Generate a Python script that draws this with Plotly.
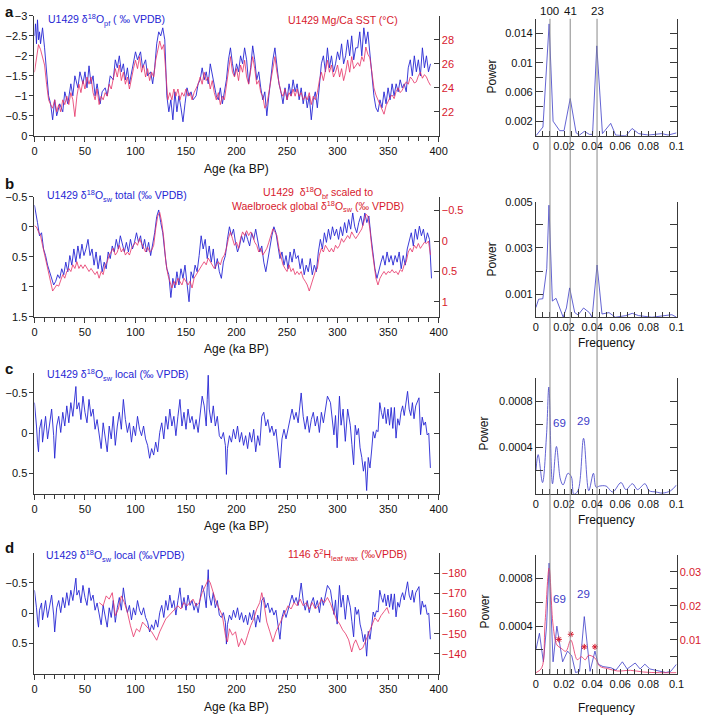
import plotly.graph_objects as go

# ---------------- DATA ----------------
# Panel a: U1429 d18O planktic (left axis) and Mg/Ca SST (right axis)
A_BLUE_AGE = [
    0, 1, 2, 3, 4, 5, 6, 8, 10, 12, 14, 16, 18, 20, 22, 25, 28, 30, 33, 36,
    38, 40, 43, 45, 48, 50, 52, 54, 56, 58, 60, 62, 65, 67, 70, 72, 75, 78, 80, 82,
    84, 86, 88, 90, 92, 94, 96, 98, 100, 102, 105, 107, 110, 112, 115, 117, 119, 121, 123, 125,
    127, 129, 130, 131, 133, 135, 137, 139, 141, 143, 145, 147, 149, 151, 153, 155, 157, 160, 162, 164,
    166, 168, 170, 172, 174, 176, 178, 180, 182, 184, 186, 188, 190, 192, 194, 196, 198, 200, 202, 204,
    206, 208, 210, 212, 214, 216, 218, 220, 222, 224, 226, 228, 230, 232, 234, 236, 238, 240, 242, 244,
    246, 248, 250, 252, 254, 256, 258, 260, 262, 264, 266, 268, 270, 272, 274, 276, 278, 280, 282, 284,
    286, 288, 290, 292, 294, 296, 298, 300, 302, 304, 306, 308, 310, 312, 314, 316, 318, 320, 322, 324,
    326, 328, 330, 332, 334, 336, 338, 340, 342, 344, 346, 348, 350, 352, 354, 356, 358, 360, 362, 364,
    366, 368, 370, 372, 374, 376, 378, 380, 382, 384, 386, 388, 390, 392]
A_BLUE = [
    -2.5, -2.8, -2.3, -2.9, -2.4, -2.6, -2.3, -2.7, -2.2, -1.6, -1.0, -0.8, -0.4, -0.9, -0.5, -0.8, -0.6, -1.1, -0.8, -1.3,
    -1.0, -1.5, -1.2, -1.6, -1.3, -1.6, -1.2, -1.75, -1.3, -1.5, -1.0, -1.3, -0.8, -1.1, -1.2, -1.0, -1.5, -1.4, -1.9, -1.7,
    -2.0, -1.6, -1.8, -1.4, -1.7, -1.3, -1.6, -1.9, -2.1, -1.9, -2.1, -1.7, -1.9, -1.5, -1.6, -1.3, -1.7, -2.3, -2.6, -2.5,
    -2.7, -2.4, -1.8, -1.0, -0.6, -0.9, -0.4, -1.1, -0.6, -1.0, -0.7, -0.35, -0.8, -1.2, -1.0, -1.1, -0.9, -1.0, -1.3, -1.4,
    -1.7, -1.4, -1.6, -1.3, -1.8, -1.5, -1.2, -1.0, -0.9, -1.2, -0.8, -1.1, -1.4, -1.9, -2.2, -1.8, -1.5, -1.8, -1.6, -2.0,
    -1.8, -2.2, -1.9, -1.3, -1.7, -2.25, -1.9, -1.4, -1.6, -1.2, -0.9, -1.1, -0.5, -1.0, -1.5, -1.9, -2.2, -1.8, -1.3, -1.1,
    -0.8, -1.2, -0.9, -1.3, -1.0, -1.4, -1.1, -1.3, -0.9, -1.2, -0.8, -1.1, -0.7, -1.0, -0.4, -0.9, -1.1, -0.7, -1.3, -1.8,
    -2.0, -1.6, -2.2, -1.7, -2.0, -1.6, -1.8, -2.1, -1.9, -2.3, -1.8, -2.0, -2.4, -2.0, -2.5, -1.9, -2.2, -2.2, -2.6, -2.0,
    -2.7, -2.3, -2.6, -2.1, -1.6, -1.0, -0.7, -0.6, -0.9, -0.7, -1.1, -0.8, -1.2, -0.9, -1.3, -1.0, -1.3, -1.1, -1.4, -1.2,
    -1.3, -1.1, -1.7, -1.9, -1.5, -2.0, -1.6, -1.9, -1.5, -2.2, -1.7, -2.0, -1.6, -1.8]

A_RED_AGE = [
    0, 2, 4, 6, 8, 10, 12, 14, 16, 18, 20, 22, 24, 26, 28, 30, 32, 34, 36, 38,
    40, 42, 44, 46, 48, 50, 52, 54, 56, 58, 60, 62, 64, 66, 68, 70, 72, 74, 76, 78,
    80, 82, 84, 86, 88, 90, 92, 94, 96, 98, 100, 102, 104, 106, 108, 110, 112, 114, 116, 118,
    120, 122, 124, 126, 128, 130, 132, 134, 136, 138, 140, 142, 144, 146, 148, 150, 152, 154, 156, 158,
    160, 162, 164, 166, 168, 170, 172, 174, 176, 178, 180, 182, 184, 186, 188, 190, 192, 194, 196, 198,
    200, 202, 204, 206, 208, 210, 212, 214, 216, 218, 220, 222, 224, 226, 228, 230, 232, 234, 236, 238,
    240, 242, 244, 246, 248, 250, 252, 254, 256, 258, 260, 262, 264, 266, 268, 270, 272, 274, 276, 278,
    280, 282, 284, 286, 288, 290, 292, 294, 296, 298, 300, 302, 304, 306, 308, 310, 312, 314, 316, 318,
    320, 322, 324, 326, 328, 330, 332, 334, 336, 338, 340, 342, 344, 346, 348, 350, 352, 354, 356, 358,
    360, 362, 364, 366, 368, 370, 372, 374, 376, 378, 380, 382, 384, 386, 388, 390, 392]
A_RED_SST = [
    25.3, 26.6, 27.6, 27.2, 26.6, 25.9, 24.3, 23.0, 22.6, 22.3, 23.0, 22.0, 22.6, 22.0, 23.0, 22.6, 23.3, 22.6, 23.6, 23.0,
    21.6, 23.3, 24.3, 23.6, 24.6, 23.9, 24.9, 24.3, 24.9, 23.6, 23.0, 23.9, 22.6, 23.3, 23.0, 23.6, 23.3, 24.3, 23.9, 24.9,
    25.6, 24.9, 25.9, 24.6, 25.3, 24.3, 24.9, 23.9, 24.9, 25.6, 26.3, 25.6, 26.6, 25.3, 25.9, 24.9, 25.6, 24.6, 25.3, 24.9,
    26.3, 27.2, 27.9, 27.2, 27.6, 25.3, 23.0, 23.6, 23.0, 23.9, 23.3, 23.9, 23.0, 23.6, 23.3, 23.9, 23.3, 23.6, 23.0, 23.6,
    23.9, 24.3, 24.9, 24.3, 25.3, 24.6, 24.9, 23.9, 24.6, 23.6, 23.0, 23.6, 22.6, 23.3, 23.0, 24.3, 25.6, 26.6, 25.3, 24.9,
    25.6, 24.6, 25.9, 25.3, 26.3, 24.9, 24.3, 25.3, 26.6, 25.6, 24.3, 24.6, 23.6, 23.3, 22.3, 22.6, 23.6, 24.6, 25.6, 26.6,
    25.3, 24.3, 23.6, 23.3, 23.9, 23.0, 23.6, 23.3, 23.9, 23.3, 23.9, 23.3, 23.6, 23.0, 23.3, 23.0, 23.6, 22.6, 23.3, 23.0,
    23.6, 24.6, 25.3, 24.6, 25.6, 26.3, 25.3, 25.9, 24.9, 25.3, 25.9, 24.9, 25.6, 24.6, 25.3, 26.3, 25.3, 26.6, 25.6, 25.9,
    26.1, 25.8, 26.6, 26.2, 27.4, 26.8, 26.5, 25.3, 24.0, 23.4, 23.0, 22.7, 22.3, 21.8, 22.5, 22.9, 23.2, 23.4, 23.1, 23.7,
    24.0, 23.6, 23.8, 24.2, 24.5, 24.3, 24.9, 24.7, 24.4, 24.5, 25.0, 25.3, 24.8, 25.1, 24.9, 24.5, 24.2]

# Panel b: d18Osw total (left) and scaled benthic d18O (right)
B_BLUE_AGE = [
    0, 1, 3, 5, 7, 9, 11, 13, 15, 17, 19,
    21, 23, 25, 27, 29, 31, 33, 35, 37, 39, 41, 43, 45, 47, 49, 51, 53, 55, 57, 59,
    61, 63, 65, 67, 69, 71, 73, 75, 77, 79, 81, 83, 85, 87, 89, 91, 93, 95, 97, 99,
    101, 103, 105, 107, 109, 111, 113, 115, 117, 119, 121, 123, 125, 127, 129, 131, 133, 135, 137, 139,
    141, 143, 145, 147, 149, 151, 153, 155, 157, 159, 161, 163, 165, 167, 169, 171, 173, 175, 177, 179,
    181, 183, 185, 187, 189, 191, 193, 195, 197, 199, 201, 203, 205, 207, 209, 211, 213, 215, 217, 219,
    221, 223, 225, 227, 229, 231, 233, 235, 237, 239, 241, 243, 245, 247, 249, 251, 253, 255, 257, 259,
    261, 263, 265, 267, 269, 271, 273, 275, 277, 279, 281, 283, 285, 287, 289, 291, 293, 295, 297, 299,
    301, 303, 305, 307, 309, 311, 313, 315, 317, 319, 321, 323, 325, 327, 329, 331, 333, 335, 337, 339,
    341, 343, 345, 347, 349, 351, 353, 355, 357, 359, 361, 363, 365, 367, 369, 371, 373, 375, 377, 379,
    381, 383, 385, 387, 389, 391, 393]
B_BLUE = [
    -0.36, -0.28, -0.07, 0.15, 0.1, 0.37, 0.48, 0.64, 0.75, 0.86, 0.97,
    0.91, 0.8, 0.86, 0.7, 0.8, 0.59, 0.75, 0.48, 0.64, 0.37, 0.59, 0.32, 0.53, 0.29, 0.48, 0.37, 0.21, 0.48, 0.37, 0.64,
    0.42, 0.7, 0.48, 0.75, 0.59, 0.7, 0.42, 0.53, 0.32, 0.42, 0.21, 0.37, 0.15, 0.29, 0.42, 0.26, 0.42, 0.21, 0.37, 0.26,
    0.1, 0.26, 0.15, 0.37, 0.21, 0.42, 0.26, 0.48, 0.32, 0.1, -0.17, -0.28, -0.07, 0.1, 0.42, 0.7, 0.8, 1.18, 0.86, 1.02,
    0.75, 0.97, 0.7, 0.86, 0.64, 0.91, 1.25, 0.75, 0.86, 0.64, 0.75, 0.48, 0.15, 0.37, 0.21, 0.53, 0.32, 0.59, 0.37, 0.7,
    0.53, 0.75, 0.86, 0.59, 0.48, 0.21, 0.0, 0.15, 0.04, 0.26, 0.42, 0.32, 0.15, 0.26, 0.1, 0.21, 0.32, 0.1, 0.21, 0.04,
    0.21, 0.42, 0.32, 0.59, 0.75, 0.53, 0.32, 0.15, 0.0, 0.1, 0.32, 0.53, 0.42, 0.64, 0.48, 0.7, 0.42, 0.59, 0.37, 0.53,
    0.48, 0.7, 0.53, 0.8, 0.64, 0.75, 0.53, 0.8, 0.64, 0.75, 0.42, 0.21, 0.37, 0.1, 0.26, 0.04, 0.21, 0.0, 0.15, 0.04,
    0.21, 0.0, 0.15, -0.07, 0.1, -0.12, 0.04, -0.23, 0.0, 0.1, -0.07, -0.18, -0.02, -0.23, -0.07, -0.18, 0.15, 0.43, 0.7, 0.86,
    0.7, 0.59, 0.48, 0.64, 0.42, 0.59, 0.48, 0.64, 0.48, 0.59, 0.42, 0.7, 0.48, 0.64, 0.37, 0.21, 0.1, 0.32, 0.04, 0.21,
    -0.01, 0.15, 0.04, 0.26, 0.1, 0.21, 0.86]

B_RED_AGE = A_RED_AGE
B_RED = [
    -0.25, -0.23, -0.15, -0.09, 0.07, 0.23, 0.39, 0.55, 0.66, 0.82, 0.77, 0.72, 0.74, 0.66, 0.55, 0.61, 0.5, 0.45, 0.5, 0.39,
    0.45, 0.34, 0.45, 0.39, 0.45, 0.39, 0.45, 0.5, 0.45, 0.5, 0.55, 0.5, 0.61, 0.5, 0.55, 0.39, 0.34, 0.23, 0.18, 0.12,
    0.23, 0.18, 0.07, 0.18, 0.12, 0.23, 0.18, 0.23, 0.12, 0.07, 0.02, 0.07, -0.04, 0.04, 0.12, 0.18, 0.1, 0.18, 0.15, 0.07,
    -0.2, -0.41, -0.47, -0.31, -0.04, 0.34, 0.55, 0.66, 0.77, 0.66, 0.72, 0.61, 0.66, 0.72, 0.61, 0.66, 0.72, 0.66, 0.77, 0.61,
    0.55, 0.5, 0.45, 0.39, 0.34, 0.39, 0.28, 0.34, 0.39, 0.45, 0.39, 0.34, 0.39, 0.28, 0.23, 0.12, -0.04, -0.15, -0.04, 0.07,
    0.02, 0.12, -0.04, -0.15, -0.09, -0.17, -0.09, -0.15, -0.09, 0.02, 0.07, 0.18, 0.12, 0.23, 0.18, 0.12, 0.02, -0.09, -0.2, -0.15,
    -0.09, 0.12, 0.28, 0.39, 0.45, 0.5, 0.39, 0.5, 0.45, 0.55, 0.5, 0.55, 0.5, 0.61, 0.66, 0.72, 0.82, 0.72, 0.61, 0.5,
    0.45, 0.23, 0.12, 0.18, 0.07, 0.12, 0.18, 0.12, 0.18, 0.07, 0.12, 0.07, -0.04, 0.02, -0.04, -0.09, -0.04, -0.15, -0.09, -0.04,
    -0.09, -0.15, -0.2, -0.31, -0.44, -0.41, -0.2, 0.12, 0.39, 0.61, 0.72, 0.61, 0.55, 0.5, 0.55, 0.5, 0.52, 0.47, 0.52, 0.5,
    0.55, 0.47, 0.5, 0.39, 0.34, 0.18, 0.12, 0.18, 0.07, 0.12, 0.04, 0.12, 0.07, 0.02, 0.04, 0.0, 0.23]

# Panels c and d: U1429 d18Osw local
C_AGE = [
    0, 1, 2, 3, 4, 5, 7, 8, 10, 11, 13, 15, 17, 19, 20, 22, 24, 26, 28, 30,
    32, 34, 36, 38, 40, 41, 42, 44, 46, 48, 50, 52, 54, 56, 58, 60, 62, 64, 66, 68,
    70, 72, 74, 76, 78, 80, 82, 84, 86, 88, 90, 92, 94, 96, 98, 100, 102, 104, 106, 108,
    110, 112, 114, 116, 118, 120, 122, 124, 126, 128, 130, 132, 134, 136, 138, 140, 142, 144, 146, 148,
    150, 152, 154, 156, 158, 160, 162, 164, 166, 168, 170, 171, 172, 173, 175, 177, 179, 181, 183, 185,
    187, 189, 190, 191, 193, 195, 197, 199, 201, 203, 205, 207, 209, 211, 213, 215, 217, 219, 221, 223,
    225, 227, 229, 231, 233, 235, 237, 239, 241, 243, 245, 247, 249, 251, 253, 255, 257, 259, 261, 263,
    264, 266, 268, 270, 272, 274, 276, 278, 280, 282, 284, 286, 288,
    290, 293, 294.7, 296.4, 298, 299.6, 301.9, 303.5, 305.5, 307.7, 310, 312.6, 314.2, 315.9, 317.5, 319.1, 320.7, 322.3, 324, 325.6,
    327.2, 328.8, 330.4, 332.1, 333.7, 335.3, 336.9, 338.5, 340.1, 341.8, 343.4, 345, 346.6, 348.2, 349.9, 351.5, 353.1, 354.7, 356.3, 357.9,
    359.6, 361.2, 362.8, 364.4, 366, 367.7, 369.3, 370.9, 372.5, 374.1, 375.7, 377.4, 379, 380.6, 382.2, 383.8, 385.4, 387, 388.7, 390.3,
    391.9]
C_LOCAL = [
    -0.38, -0.26, -0.09, 0.11, 0.23, -0.05, -0.17, 0.11, -0.09, -0.21, 0.07, -0.09, -0.3, 0.03, 0.31, -0.09, -0.21, -0.01, -0.26, -0.09,
    -0.34, -0.13, -0.38, -0.21, -0.42, -0.58, -0.3, -0.38, -0.17, -0.46, -0.26, -0.13, -0.42, -0.21, -0.3, -0.05, -0.17, -0.01, 0.19, -0.13,
    0.03, 0.23, -0.09, 0.07, -0.21, 0.15, -0.09, -0.26, -0.05, -0.42, -0.17, -0.01, -0.13, 0.11, -0.09, 0.03, -0.21, -0.05, 0.03, -0.09,
    0.07, 0.15, 0.31, 0.19, 0.27, 0.11, 0.23, -0.01, -0.13, 0.07, -0.21, -0.05, -0.3, -0.09, -0.21, 0.03, -0.21, -0.42, -0.09, -0.26,
    -0.05, -0.3, -0.13, -0.21, -0.05, -0.17, -0.01, -0.21, -0.46, -0.34, -0.09, -0.42, -0.72, -0.3, -0.13, -0.34, -0.09, -0.21, 0.03, 0.07,
    -0.01, 0.15, 0.51, 0.19, 0.03, 0.11, -0.05, 0.07, -0.09, 0.11, -0.01, 0.15, 0.03, 0.19, -0.01, 0.11, -0.05, 0.23, 0.03, 0.15,
    -0.21, -0.26, -0.09, -0.17, -0.01, -0.09, 0.03, -0.05, 0.19, 0.43, 0.07, -0.05, 0.07, -0.05, -0.17, -0.3, -0.17, -0.26, -0.13, -0.34,
    -0.5, -0.21, -0.05, -0.21, -0.01, -0.17, -0.26, -0.09, -0.21, -0.01, -0.26, -0.13, -0.3,
    -0.46, -0.38, -0.18, 0.02, -0.22, 0.18, -0.46, -0.1, -0.3, 0.1, -0.3, -0.1, 0.14, 0.39, -0.1, 0.02, -0.06, 0.18, 0.3, 0.47,
    0.35, 0.71, 0.3, 0.43, 0.22, -0.02, 0.06, -0.04, -0.02, -0.38, -0.26, -0.18, -0.32, -0.12, -0.3, -0.1, -0.32, -0.06, -0.32, 0.06,
    -0.18, -0.1, -0.26, -0.34, -0.22, -0.38, -0.52, -0.3, -0.22, -0.38, -0.18, -0.34, -0.38, -0.44, 0.02, -0.2, -0.1, -0.14, 0.02, 0.0,
    0.43]

# Panel d: ODP 1146 d2H leaf wax (right axis)
D_RED_AGE = [
    64, 68, 71, 74, 77, 80, 83, 86, 89, 92, 95, 98, 101, 104, 107, 110, 113, 116, 119, 121,
    124, 127, 130, 133, 136, 139, 142, 145, 148, 151, 154, 157, 160, 163, 166, 169, 172, 174, 177, 180,
    183, 186, 189, 191, 193, 196, 199, 202, 205, 208, 211, 214, 217, 220, 223, 225, 227, 230, 233, 236,
    239, 242, 245, 248, 251, 254, 257, 260, 263, 266, 269, 272, 275, 278, 281, 284, 287, 290, 293, 296,
    299, 302, 305, 308, 311, 314, 316, 318, 320, 322, 325, 328, 331, 334, 337, 340, 343, 346, 349, 351]
D_RED = [
    -165.5, -163.9, -168.8, -167.2, -170.4, -159.0, -162.3, -168.8, -165.5, -160.6, -154.0, -148.5, -152.5, -151.0, -155.8, -154.0, -152.5, -151.0, -148.5, -146.8,
    -151.0, -154.0, -157.4, -159.0, -160.6, -162.3, -163.9, -162.3, -165.5, -163.9, -165.5, -167.2, -163.9, -165.5, -170.4, -173.7, -176.9, -175.3, -170.4, -165.5,
    -162.3, -159.0, -149.3, -146.0, -152.5, -149.3, -151.0, -143.6, -147.6, -144.4, -149.3, -154.0, -157.4, -162.3, -165.5, -170.4, -165.5, -155.8, -151.0, -146.0,
    -151.0, -154.0, -157.4, -160.6, -163.9, -162.3, -165.5, -163.9, -167.2, -163.9, -165.5, -162.3, -165.5, -162.3, -163.9, -167.2, -165.5, -168.0, -165.0, -161.0,
    -157.0, -155.0, -152.0, -150.0, -147.0, -141.0, -145.0, -147.0, -144.0, -142.0, -143.0, -147.0, -151.0, -154.0, -158.0, -156.0, -159.0, -161.0, -163.0, -160.0]

# Power spectra
FREQ_A = [0, 0.005, 0.0094, 0.0122, 0.0169, 0.02, 0.0244, 0.0286, 0.031, 0.0344, 0.038, 0.0403,
          0.0433, 0.0473, 0.0532, 0.0567, 0.064, 0.0684, 0.0731, 0.08, 0.0895, 0.094, 0.1]
POWER_A = [0, 0.0012, 0.0153, 0.002, 0.0007, 0.0007, 0.0051, 0.0004, 0.0001, 0.0006, 0.0002, 0.0002,
           0.0123, 0.0003, 0.0017, 0.0001, 0.0, 0.001, 0.0003, 0.0001, 0.0003, 0.0001, 0.0004]

FREQ_B = [0, 0.0019, 0.0049, 0.0077, 0.0093, 0.0117, 0.0143, 0.0194, 0.0217, 0.024, 0.0276, 0.03, 0.0339,
          0.038, 0.04, 0.0435, 0.047, 0.052, 0.0565, 0.064, 0.0685, 0.073, 0.0825, 0.092, 0.0967, 0.1]
POWER_B = [0.00042, 0.00078, 0.0008, 0.0021, 0.00485, 0.0007, 0.00082, 0.0, 0.0004, 0.00127, 0.0002, 0.0001, 0.0004,
           0.0002, 0.0, 0.00226, 0.00014, 0.0002, 0.0, 0.00007, 0.00017, 0.00007, 0.0, 0.00007, 0.00011, 0.0]

FREQ_C = [0, 0.0016, 0.0047, 0.0075, 0.0092, 0.0118, 0.0146, 0.0174, 0.0193, 0.0228,
          0.0252, 0.027, 0.0299, 0.0339, 0.0376, 0.0409, 0.0428, 0.0452, 0.0499, 0.0546,
          0.0605, 0.064, 0.0687, 0.0722, 0.0776, 0.0805, 0.0852, 0.0899, 0.0958, 0.1]
POWER_C = [0.0002, 0.00034, 0.0001, 0.0005, 0.00092, 0.00009, 0.00041, 0.00013, 0.00008, 0.00018,
           0.00015, 0.0, 0.00003, 0.00048, 0.00003, 0.00018, 0.00006, 0.00007, 0.00007, 0.00002,
           0.0001, 0.00004, 0.00009, 0.00004, 0.00009, 0.00003, 0.00002, 0.00001, 0.00003, 0.00008]

FREQ_D_BLUE = [0, 0.0025, 0.0053, 0.0076, 0.0094, 0.0122, 0.0149, 0.019, 0.0225, 0.0255, 0.0282, 0.031,
               0.0344, 0.0385, 0.042, 0.0443, 0.0477, 0.0534, 0.0569, 0.0615, 0.0649, 0.0706, 0.0741,
               0.0775, 0.081, 0.0878, 0.0924, 0.0959, 0.1]
POWER_D_BLUE = [0.0002, 0.00034, 0.0001, 0.0004, 0.00093, 0.0001, 0.0004, 0.0001, 0.00019, 0.00015, 0.00001, 0.00002,
                0.00048, 0.00002, 0.00019, 0.00008, 0.00006, 0.00005, 0.00003, 0.0001, 0.00004, 0.00009, 0.00004,
                0.00008, 0.00004, 0.00002, 0.00001, 0.00002, 0.00008]
FREQ_D_RED = [0, 0.0041, 0.0064, 0.0094, 0.0122, 0.0149, 0.0179, 0.0213, 0.0248, 0.0294, 0.0323,
              0.0351, 0.0374, 0.042, 0.0454, 0.0511, 0.058, 0.0672, 0.0764, 0.0878, 0.1]
POWER_D_RED = [0.0003, 0.0017, 0.0143, 0.0311, 0.0143, 0.0085, 0.0075, 0.0066, 0.0099, 0.0041, 0.005,
               0.0041, 0.0054, 0.0046, 0.0022, 0.0015, 0.0008, 0.001, 0.0005, 0.0003, 0.0003]
STAR_FREQ = [0.0163, 0.0248, 0.0344, 0.042]
STAR_POWER = [0.0101, 0.0116, 0.0079, 0.0079]

PERIODS = [100, 41, 23]

# ---------------- STYLE ----------------
W, H = 716, 722
FONT = "Liberation Sans, Arial, Helvetica, sans-serif"
BLUE = "rgb(38,38,212)"
SPEC_BLUE = "rgb(60,60,200)"
RED = "rgb(230,48,100)"
RED_TXT = "rgb(215,25,45)"
AX = "#3a3a3a"


def fx(px):
    return px / W


def fy(py):
    return 1 - py / H


LX = [fx(32), fx(443)]
SX = [fx(542), fx(685)]

base = dict(showline=True, linecolor=AX, linewidth=1, showgrid=False, zeroline=False,
            tickcolor=AX, tickfont=dict(family=FONT, size=11, color="#111"))


def time_x(anchor):
    d = dict(base)
    d.update(domain=LX, anchor=anchor, range=[0, 400], tickmode="linear", tick0=0, dtick=50,
             ticks="outside", ticklen=5,
             minor=dict(tickmode="linear", tick0=0, dtick=10, ticks="outside", ticklen=4, tickcolor=AX))
    return d


def spec_x(anchor):
    d = dict(base)
    d.update(domain=SX, anchor=anchor, range=[0, 0.1],
             tickvals=[0, 0.02, 0.04, 0.06, 0.08, 0.1],
             ticktext=["0", "0.02", "0.04", "0.06", "0.08", "0.1"],
             ticks="inside", ticklen=5,
             minor=dict(tickmode="linear", tick0=0, dtick=0.005, ticks="inside", ticklen=5, tickcolor=AX))
    return d


def left_y(dom, anchor, rng, vals):
    d = dict(base)
    d.update(domain=dom, anchor=anchor, range=rng, tickvals=vals, ticks="outside", ticklen=4)
    return d


def right_y(over, anchor, rng, vals, show=True, minor_dtick=None, ticklen=5):
    d = dict(base)
    d.update(overlaying=over, side="right", anchor=anchor, range=rng, tickvals=vals,
             ticks="inside", ticklen=ticklen, showticklabels=show,
             tickfont=dict(family=FONT, size=11, color=RED_TXT))
    if minor_dtick is not None:
        d["minor"] = dict(tickmode="linear", tick0=0, dtick=minor_dtick, ticks="inside",
                          ticklen=ticklen, tickcolor=AX)
    return d


def spec_y(dom, anchor, rng, vals, text, minor_dtick, mirror=True):
    d = dict(base)
    d.update(domain=dom, anchor=anchor, range=rng, tickvals=vals, ticktext=text,
             ticks="inside", ticklen=7,
             minor=dict(tickmode="linear", tick0=0, dtick=minor_dtick, ticks="inside", ticklen=7,
                        tickcolor=AX))
    if mirror:
        d["mirror"] = "ticks"
    return d


DA = [fy(132), fy(10)]
DAS = [fy(132), fy(13)]
DB = [fy(316), fy(194)]
DBS = [fy(316.5), fy(199)]
DC = [fy(496), fy(373)]
DCS = [fy(496.5), fy(378)]
DD = [fy(679), fy(556)]
DDS = [fy(679), fy(558)]

fig = go.Figure()


def line(x, y, xa, ya, color, width=0.85, shape="linear"):
    fig.add_trace(go.Scatter(x=x, y=y, xaxis=xa, yaxis=ya, mode="lines",
                             line=dict(color=color, width=width, shape=shape),
                             showlegend=False, hoverinfo="skip"))


# panel a
line(A_RED_AGE, A_RED_SST, "x", "y2", RED, 0.8)
line(A_BLUE_AGE, A_BLUE, "x", "y", BLUE, 0.9)
line(FREQ_A, POWER_A, "x2", "y3", SPEC_BLUE, 0.8)
# panel b
line(B_RED_AGE, B_RED, "x3", "y5", RED, 0.8)
line(B_BLUE_AGE, B_BLUE, "x3", "y4", BLUE, 0.9)
line(FREQ_B, POWER_B, "x4", "y6", SPEC_BLUE, 0.8)
# panel c
line(C_AGE, C_LOCAL, "x5", "y7", BLUE, 0.9)
fig.add_trace(go.Scatter(x=[], y=[], xaxis="x5", yaxis="y13", showlegend=False))
line(FREQ_C, POWER_C, "x6", "y8", SPEC_BLUE, 0.8, "spline")
# panel d
line(D_RED_AGE, D_RED, "x7", "y10", RED, 0.8)
line(C_AGE, C_LOCAL, "x7", "y9", BLUE, 0.9)
line(FREQ_D_RED, POWER_D_RED, "x8", "y12", RED, 0.8, "spline")
line(FREQ_D_BLUE, POWER_D_BLUE, "x8", "y11", SPEC_BLUE, 0.8)
fig.add_trace(go.Scatter(x=STAR_FREQ, y=STAR_POWER, xaxis="x8", yaxis="y12", mode="markers",
                         marker=dict(symbol="asterisk-open", size=5, color=RED_TXT,
                                     line=dict(color=RED_TXT, width=1)),
                         showlegend=False, hoverinfo="skip"))

layout = dict(
    width=W, height=H, autosize=False,
    margin=dict(l=0, r=0, t=0, b=0),
    paper_bgcolor="white", plot_bgcolor="rgba(0,0,0,0)",
    font=dict(family=FONT, size=11, color="#111"),
    showlegend=False,
    xaxis=time_x("y"),
    yaxis=left_y(DA, "x", [0, -3], [0, -0.5, -1, -1.5, -2, -2.5, -3]),
    yaxis2=right_y("y", "x", [20, 30], [22, 24, 26, 28]),
    xaxis2=spec_x("y3"),
    yaxis3=spec_y(DAS, "x2", [0, 0.016], [0.002, 0.006, 0.01, 0.014],
                  ["0.002", "0.006", "0.01", "0.014"], 0.002),
    xaxis3=time_x("y4"),
    yaxis4=left_y(DB, "x3", [1.5, -0.5], [-0.5, 0, 0.5, 1, 1.5]),
    yaxis5=right_y("y4", "x3", [1.242, -0.726], [-0.5, 0, 0.5, 1]),
    xaxis4=spec_x("y6"),
    yaxis6=spec_y(DBS, "x4", [0, 0.005], [0.001, 0.003, 0.005], ["0.001", "0.003", "0.005"], 0.001),
    xaxis5=time_x("y7"),
    yaxis7=left_y(DC, "x5", [0.75, -0.75], [-0.5, 0, 0.5]),
    yaxis13=right_y("y7", "x5", [0.75, -0.75], [-0.5, 0, 0.5], show=False),
    xaxis6=spec_x("y8"),
    yaxis8=spec_y(DCS, "x6", [0, 0.001], [0.0004, 0.0008], ["0.0004", "0.0008"], 0.0002),
    xaxis7=time_x("y9"),
    yaxis9=left_y(DD, "x7", [1, -1], [-0.5, 0, 0.5]),
    yaxis10=right_y("y9", "x7", [-130.2, -190.2], [-180, -170, -160, -150, -140]),
    xaxis8=spec_x("y11"),
    yaxis11=spec_y(DDS, "x8", [0, 0.001], [0.0004, 0.0008], ["0.0004", "0.0008"], 0.0002, mirror=False),
    yaxis12=right_y("y11", "x8", [0, 0.035], [0.01, 0.02, 0.03], minor_dtick=0.005, ticklen=7),
)
fig.update_layout(**layout)

# vertical period lines spanning the spectra column
for p in PERIODS:
    fig.add_shape(type="line", xref="x2", yref="paper", x0=1 / p, x1=1 / p,
                  y0=fy(679), y1=fy(13), line=dict(color="#8a8a8a", width=1), layer="above")
    fig.add_annotation(x=1 / p, xref="x2", y=fy(5), yref="paper", text=str(p), showarrow=False,
                       font=dict(family=FONT, size=11.5, color="#111"), xanchor="center", yanchor="middle")


def ann(px, py, text, color="#111", size=11, xanchor="left", bold=False, angle=0, align="left"):
    fig.add_annotation(x=fx(px), y=fy(py), xref="paper", yref="paper", text=text, showarrow=False,
                       xanchor=xanchor, yanchor="middle", textangle=angle, align=align,
                       font=dict(family=FONT, size=size, color=color,
                                 weight="bold" if bold else "normal"))


# panel letters
ann(0, 6, "a", size=15, bold=True)
ann(0, 181, "b", size=15, bold=True)
ann(0, 369, "c", size=15, bold=True)
ann(0, 551, "d", size=15, bold=True)

# series labels
ann(44, 14, "U1429 \u03b4<sup>18</sup>O<sub>pf</sub> ( \u2030 VPDB)", BLUE, 10.5)
ann(404, 14, "U1429 Mg/Ca SST (\u00b0C)", RED_TXT, 10.5, xanchor="right")
ann(43, 193, "U1429 \u03b4<sup>18</sup>O<sub>sw</sub> total (\u2030 VPDB)", BLUE, 10.5)
ann(320, 197, "U1429  \u03b4<sup>18</sup>O<sub>bf</sub> scaled to<br>Waelbroeck global \u03b4<sup>18</sup>O<sub>sw</sub> (\u2030 VPDB)",
    RED_TXT, 10.5, xanchor="center", align="center")
ann(43, 375, "U1429 \u03b4<sup>18</sup>O<sub>sw</sub> local (\u2030 VPDB)", BLUE, 10.5)
ann(42, 559, "U1429 \u03b4<sup>18</sup>O<sub>sw</sub> local (\u2030VPDB)", BLUE, 10.5)
ann(413, 558, "1146 \u03b4<sup>2</sup>H<sub>leaf wax</sub> (\u2030VPDB)", RED_TXT, 10.5, xanchor="right")

# axis titles
for py in (166, 349, 529, 713):
    ann(237.5, py, "Age (ka BP)", size=12, xanchor="center")
for py in (343, 523, 714):
    ann(614, py, "Frequency", size=12, xanchor="center")
ann(497, 72, "Power", size=12, xanchor="center", angle=-90)
ann(497, 258, "Power", size=12, xanchor="center", angle=-90)
ann(489, 435, "Power", size=12, xanchor="center", angle=-90)
ann(490, 616, "Power", size=12, xanchor="center", angle=-90)

# peak period labels in panels c and d
for xa, ya, y69, y29 in (("x6", "y8", 0.00061, 0.00063), ("x8", "y11", 0.00063, 0.00067)):
    fig.add_annotation(x=0.0166, y=y69, xref=xa, yref=ya, text="69", showarrow=False,
                       font=dict(family=FONT, size=11.5, color=SPEC_BLUE))
    fig.add_annotation(x=0.0335, y=y29, xref=xa, yref=ya, text="29", showarrow=False,
                       font=dict(family=FONT, size=11.5, color=SPEC_BLUE))

# remove the browser's default 8px page margin so the figure sits at the window origin
fig.write_html("out.html", config={"displayModeBar": False},
               post_script="document.body.style.margin='0px';document.body.style.overflow='hidden';")
